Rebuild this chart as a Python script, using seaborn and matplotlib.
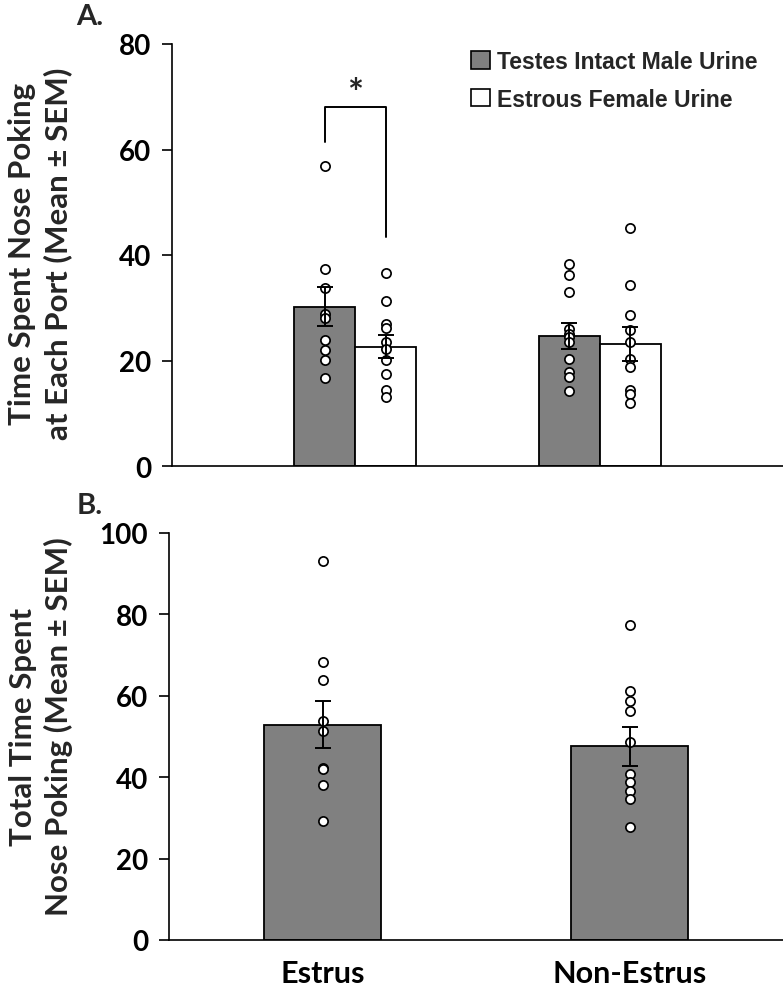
import numpy as np
import pandas as pd
import matplotlib
matplotlib.use("Agg")
import matplotlib.pyplot as plt
import seaborn as sns
from matplotlib.patches import Patch

# ---------------- data ----------------
conditions = ["Estrus", "Non-Estrus"]
urine_types = ["Testes Intact Male Urine", "Estrous Female Urine"]

# Panel A: bar means and SEM per condition
a_mean_male = [30.2, 24.7]
a_sem_male = [3.7, 2.5]
a_mean_female = [22.6, 23.1]
a_sem_female = [2.2, 3.2]

# Panel A: individual points
a_pts_estrus_male = [56.9, 37.3, 33.8, 28.8, 28.0, 23.8, 21.9, 20.1, 16.6]
a_pts_estrus_female = [36.5, 31.2, 26.9, 26.1, 23.6, 22.1, 20.1, 17.4, 14.5, 13.0]
a_pts_nonestrus_male = [38.2, 36.2, 33.0, 26.0, 25.1, 24.5, 23.5, 20.3, 17.8, 16.9, 14.2]
a_pts_nonestrus_female = [45.2, 34.4, 28.7, 25.7, 23.5, 20.3, 18.8, 14.4, 13.7, 11.9]

# Panel B: totals
b_mean = [52.9, 47.6]
b_sem = [5.8, 4.8]
b_pts_estrus = [93.2, 68.3, 63.9, 53.8, 51.4, 42.2, 41.9, 38.0, 29.2]
b_pts_nonestrus = [77.4, 61.1, 58.7, 56.2, 48.6, 40.9, 38.8, 36.6, 34.7, 27.8]

a_yticks = [0, 20, 40, 60, 80]
b_yticks = [0, 20, 40, 60, 80, 100]

# significance bracket (panel A, Estrus)
sig_top = 68.0
sig_left_bottom = 61.4
sig_right_bottom = 43.5
sig_star_y = 68.4

# ---------------- style ----------------
sns.set_style("ticks")
plt.rcParams["font.family"] = ["Lato", "DejaVu Sans"]
plt.rcParams["font.weight"] = "bold"
plt.rcParams["axes.linewidth"] = 1.2
plt.rcParams["axes.edgecolor"] = "black"

GRAY = "#808080"
W, H = 783, 987
fig = plt.figure(figsize=(W / 100, H / 100), dpi=100)

axA = fig.add_axes([172 / W, 1 - 467 / H, 611 / W, 422 / H])
axB = fig.add_axes([169 / W, 1 - 941 / H, 614 / W, 407 / H])

# ---------------- panel A ----------------
dfA = pd.DataFrame({
    "cond": conditions * 2,
    "urine": [urine_types[0]] * 2 + [urine_types[1]] * 2,
    "mean": a_mean_male + a_mean_female,
})
sns.barplot(data=dfA, x="cond", y="mean", hue="urine", order=conditions,
            hue_order=urine_types, palette={urine_types[0]: GRAY, urine_types[1]: "white"},
            saturation=1, width=0.5, edgecolor="black", linewidth=1.3,
            errorbar=None, legend=False, ax=axA, zorder=1)

barsA = sorted([p for p in axA.patches if p.get_height() > 0], key=lambda p: p.get_x())
centersA = [p.get_x() + p.get_width() / 2 for p in barsA]
ptsA = [a_pts_estrus_male, a_pts_estrus_female, a_pts_nonestrus_male, a_pts_nonestrus_female]
meansA = [a_mean_male[0], a_mean_female[0], a_mean_male[1], a_mean_female[1]]
semsA = [a_sem_male[0], a_sem_female[0], a_sem_male[1], a_sem_female[1]]

for cx, pts, m, s in zip(centersA, ptsA, meansA, semsA):
    axA.scatter(np.full(len(pts), cx), pts, s=44, facecolor="white",
                edgecolor="black", linewidth=1.25, zorder=3)
    axA.errorbar(cx, m, yerr=s, fmt="none", ecolor="black", elinewidth=1.4,
                 capsize=5.5, capthick=1.4, zorder=4)

# bracket
xl, xr = centersA[0], centersA[1]
axA.plot([xl, xl, xr, xr], [sig_left_bottom, sig_top, sig_top, sig_right_bottom],
         color="black", linewidth=1.4, zorder=4)
axA.text((xl + xr) / 2, sig_star_y, "*", ha="center", va="baseline", fontsize=27,
         fontweight="bold")

axA.set_xlim(-0.75, 1.75)
axA.set_ylim(0, 80)
axA.set_yticks(a_yticks)
axA.set_xticks([])
axA.set_xlabel("")
axA.set_ylabel("")
axA.tick_params(axis="y", length=7, width=1.2, pad=8, labelsize=20, colors="black")
sns.despine(ax=axA)

handles = [Patch(facecolor=GRAY, edgecolor="black", linewidth=1.2),
           Patch(facecolor="white", edgecolor="black", linewidth=1.2)]
leg = axA.legend(handles, urine_types, loc="upper left", bbox_to_anchor=(0.49, 0.985),
                 frameon=False, borderpad=0, borderaxespad=0, handlelength=0.8,
                 handleheight=0.8, handletextpad=0.3, labelspacing=0.62,
                 prop={"family": "Liberation Sans", "weight": "bold", "size": 16.6})

# ---------------- panel B ----------------
dfB = pd.DataFrame({"cond": conditions, "mean": b_mean})
sns.barplot(data=dfB, x="cond", y="mean", order=conditions, color=GRAY, saturation=1,
            width=0.38, edgecolor="black", linewidth=1.3, errorbar=None, ax=axB, zorder=1)
barsB = sorted([p for p in axB.patches if p.get_height() > 0], key=lambda p: p.get_x())
centersB = [p.get_x() + p.get_width() / 2 for p in barsB]
for cx, pts, m, s in zip(centersB, [b_pts_estrus, b_pts_nonestrus], b_mean, b_sem):
    axB.scatter(np.full(len(pts), cx), pts, s=44, facecolor="white",
                edgecolor="black", linewidth=1.25, zorder=3)
    axB.errorbar(cx, m, yerr=s, fmt="none", ecolor="black", elinewidth=1.4,
                 capsize=5.5, capthick=1.4, zorder=4)

axB.set_xlim(-0.5, 1.5)
axB.set_ylim(0, 100)
axB.set_yticks(b_yticks)
axB.set_xlabel("")
axB.set_ylabel("")
axB.tick_params(axis="y", length=7, width=1.2, pad=8, labelsize=20, colors="black")
axB.tick_params(axis="x", length=0, pad=14, labelsize=22, colors="black")
sns.despine(ax=axB)

# ---------------- labels ----------------
fig.text(40 / W, 1 - 254 / H, "Time Spent Nose Poking\nat Each Port (Mean ± SEM)",
         rotation=90, ha="center", va="center", fontsize=22.5, fontweight="bold",
         linespacing=1.3, multialignment="center")
fig.text(41 / W, 1 - 727 / H, "Total Time Spent\nNose Poking (Mean ± SEM)",
         rotation=90, ha="center", va="center", fontsize=22.5, fontweight="bold",
         linespacing=1.3, multialignment="center")
fig.text(90 / W, 1 - 17 / H, "A.", ha="center", va="center", fontsize=21, fontweight="bold")
fig.text(90 / W, 1 - 506 / H, "B.", ha="center", va="center", fontsize=21, fontweight="bold")

fig.savefig("out.png", dpi=100)
